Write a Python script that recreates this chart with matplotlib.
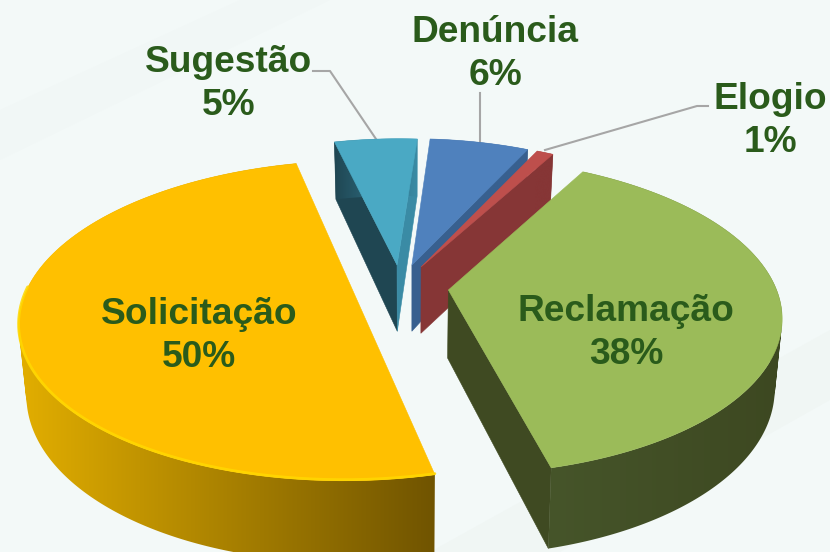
import numpy as np
import matplotlib
matplotlib.use("Agg")
import matplotlib.pyplot as plt
from matplotlib.colors import to_rgb
from matplotlib.patches import Polygon, PathPatch
from matplotlib.path import Path

# data
labels = ["Sugestão", "Denúncia", "Elogio", "Reclamação", "Solicitação"]
values = [5, 6, 1, 38, 50]

top_colors = ["#4AA9C4", "#4F81BD", "#BE4F4C", "#9BBB59", "#FFC000"]
side_colors = ["#1F4652", "#38608F", "#863636", "#3F4A22", "#7A5A00"]
side_colors_light = ["#3A8BA5", "#38608F", "#863636", "#3F4A22", "#7A5A00"]
wall_left = ["#1F4652", "#38608F", "#863636", "#46552A", "#E2AE00"]
wall_right = ["#3A8BA5", "#38608F", "#863636", "#3D4821", "#705400"]

# pie offsets in floor coordinates, one per slice
offset_x = [-0.041, 0.006, 0.035, 0.118, -0.17]
offset_y = [0.166, 0.166, 0.153, 0.0, -0.028]
radius_x = [0.97, 0.97, 0.98, 1.01, 1.01]
angle_shift = [0, 0, 0, -0.2, 0.6]

label_x = [229, 495, 770, 626, 199]
label_y = [84, 54, 121, 333, 336]
text_color = "#2A5B1B"
line_color = "#A6A6A6"

leaders = [
    ([313, 330, 376], [71, 71, 139]),
    ([480, 480], [93, 143]),
    ([708, 697, 545], [106, 106, 150]),
]

# projection
X0, Y0 = 410, 290
RX, RY = 325, 154.4
PERSP = 0.163
DEPTH = 68
BOTTOM_K = 0.98
START_DEG = -14


def project(x, y):
    w = 1 + PERSP * y
    return X0 + RX * x / w, Y0 - RY * y / w


def drop(x, y):
    # same point on the lower face of the pie
    sx, sy = project(x, y)
    w = 1 + PERSP * y
    return X0 + (sx - X0) * BOTTOM_K, sy + DEPTH / w


def wall_is_visible(ax_pt, rim_pt, inside_pt):
    ex, ey = rim_pt[0] - ax_pt[0], rim_pt[1] - ax_pt[1]
    side_in = ex * (inside_pt[1] - ax_pt[1]) - ey * (inside_pt[0] - ax_pt[0])
    side_down = ex * DEPTH
    return side_in * side_down < 0


def gradient(c1, c2):
    a, b = np.array(to_rgb(c1)), np.array(to_rgb(c2))
    t = np.linspace(0, 1, 256)[None, :, None]
    return a + (b - a) * t


def strip_path(tx, ty, bx, by):
    # quads all wound the same way, otherwise the fold at the pie edge leaves a hole
    verts, codes = [], []
    for k in range(len(tx) - 1):
        q = [(tx[k], ty[k]), (tx[k + 1], ty[k + 1]), (bx[k + 1], by[k + 1]), (bx[k], by[k])]
        x, y = np.array(q).T
        area = np.sum(x * np.roll(y, -1) - np.roll(x, -1) * y)
        if area < 0:
            q = q[::-1]
        verts += q + [q[0]]
        codes += [Path.MOVETO, Path.LINETO, Path.LINETO, Path.LINETO, Path.CLOSEPOLY]
    return Path(verts, codes)


def draw_slice(ax, i, a0, a1):
    n = max(int(abs(a1 - a0) * 2), 4)
    ang = np.radians(np.linspace(a0, a1, n) + angle_shift[i])
    wx = offset_x[i] + np.sin(ang) * radius_x[i]
    wy = offset_y[i] + np.cos(ang)
    cx, cy = offset_x[i], offset_y[i]

    tx, ty = project(wx, wy)
    bx, by = drop(wx, wy)
    apex = project(cx, cy)
    apex_low = drop(cx, cy)
    inside = (tx[n // 2], ty[n // 2])

    # side walls that can be seen from above
    for j, light in ((0, False), (-1, True)):
        rim = (tx[j], ty[j])
        if wall_is_visible(apex, rim, inside):
            col = side_colors_light[i] if light else side_colors[i]
            ax.add_patch(Polygon([apex, rim, (bx[j], by[j]), apex_low],
                                 fc=col, ec=col, lw=0.4, zorder=2 + i))

    # outer wall with its left to right shading
    clip = PathPatch(strip_path(tx, ty, bx, by), transform=ax.transData, fc="none", ec="none")
    ax.add_patch(clip)
    xa, xb = min(tx.min(), bx.min()), max(tx.max(), bx.max())
    im = ax.imshow(gradient(wall_left[i], wall_right[i]), aspect="auto",
                   extent=(xa, xb, by.max(), ty.min()), zorder=2.1 + i,
                   interpolation="bilinear")
    im.set_clip_path(clip)

    pts = [apex] + list(zip(tx, ty))
    ax.add_patch(Polygon(pts, fc=top_colors[i], ec=top_colors[i], lw=0.4, zorder=2.2 + i))

    if i == 4:
        front = wy < offset_y[i] + 0.05
        ax.plot(tx[front], ty[front] - 1, color="#FFD800", lw=2, alpha=0.85,
                zorder=2.3 + i, solid_capstyle="round")


fig = plt.figure(figsize=(8.3, 5.52), dpi=100, facecolor="#F3F9F8")
ax = fig.add_axes([0, 0, 1, 1])
ax.axis("off")

# faint bands in the background
ax.add_patch(Polygon([(430, 552), (830, 330), (830, 552)], fc="#F0F6F4", ec="none", zorder=0))
ax.add_patch(Polygon([(560, 552), (830, 400), (830, 552)], fc="#F3F9F8", ec="none", zorder=0))
ax.add_patch(Polygon([(0, 110), (240, 0), (330, 0), (0, 160)], fc="#F1F7F6", ec="none", zorder=0))

angles = START_DEG + np.concatenate([[0], np.cumsum(values)]) * 3.6
for i in range(len(values)):
    draw_slice(ax, i, angles[i], angles[i + 1])

for lx, ly in leaders:
    ax.plot(lx, ly, color=line_color, lw=1.5, zorder=1)

for name, val, x, y in zip(labels, values, label_x, label_y):
    ax.text(x, y, f"{name}\n{val}%", ha="center", va="center", color=text_color,
            fontsize=26.7, fontweight="bold", family="Liberation Sans",
            linespacing=1.30, zorder=10)

ax.set_xlim(0, 830)
ax.set_ylim(552, 0)

fig.savefig("out.png", dpi=100, facecolor=fig.get_facecolor())
